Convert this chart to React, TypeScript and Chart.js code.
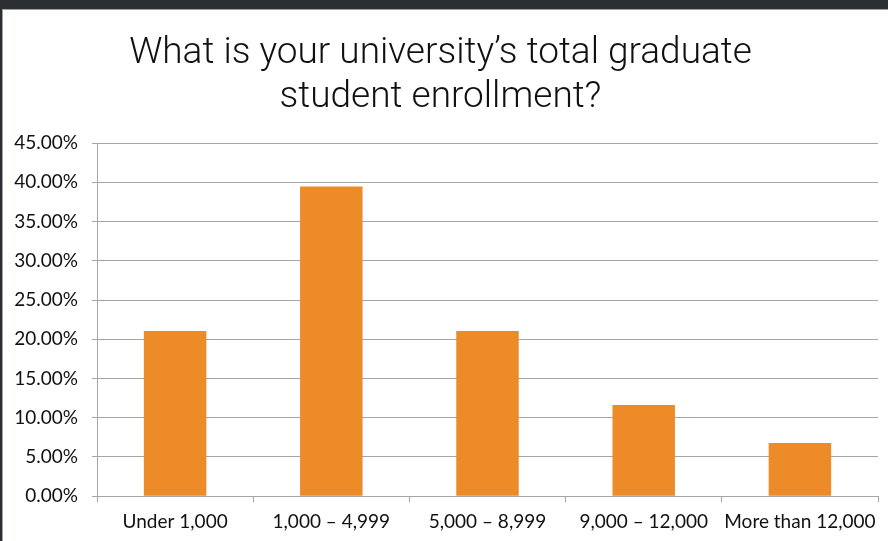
import React, { useEffect, useRef } from "react";
import { Chart, registerables } from "chart.js";

Chart.register(...registerables);

const titleLines = ["What is your university\u2019s total graduate", "student enrollment?"];
const categories = ["Under 1,000", "1,000 \u2013 4,999", "5,000 \u2013 8,999", "9,000 \u2013 12,000", "More than 12,000"];
const shares = [21.05, 39.47, 21.05, 11.63, 6.78];
const yMin = 0;
const yMax = 45;
const yStep = 5;

export default function App() {
  const ref = useRef<HTMLCanvasElement | null>(null);

  useEffect(() => {
    document.body.style.margin = "0";
    const canvas = ref.current;
    if (!canvas) return;
    const chart = new Chart(canvas, {
      type: "bar",
      data: {
        labels: categories,
        datasets: [
          {
            data: shares,
            backgroundColor: "#ED8B28",
            borderWidth: 0,
            categoryPercentage: 0.8,
            barPercentage: 0.5,
          },
        ],
      },
      options: {
        animation: false,
        responsive: false,
        maintainAspectRatio: false,
        layout: { padding: { top: 10, left: 3, right: 10, bottom: 0 } },
        plugins: {
          legend: { display: false },
          tooltip: { enabled: false },
          title: {
            display: true,
            text: titleLines,
            color: "#111",
            font: { family: "Roboto", size: 37, weight: "300", lineHeight: 1.19 },
            padding: { top: 22, bottom: 23 },
          },
        },
        scales: {
          x: {
            grid: {
              display: true,
              drawOnChartArea: false,
              drawTicks: true,
              tickLength: 6,
              color: "#a6a6a6",
              offset: true,
            },
            border: { display: true, color: "#a6a6a6", width: 1 },
            ticks: {
              color: "#111",
              font: { family: "Lato", size: 19 },
              padding: 8,
              maxRotation: 0,
              autoSkip: false,
            },
          },
          y: {
            min: yMin,
            max: yMax,
            grid: { color: "#a6a6a6", tickLength: 5, lineWidth: 1 },
            border: { display: true, color: "#a6a6a6", width: 1 },
            ticks: {
              stepSize: yStep,
              color: "#111",
              font: { family: "Lato", size: 19 },
              padding: 14,
              callback: (v: any) => Number(v).toFixed(2) + "%",
            },
            afterFit: (scale: any) => {
              scale.width = 94;
            },
          },
        },
      },
    });
    return () => chart.destroy();
  }, []);

  return (
    <div style={{ position: "fixed", left: 0, top: 0, width: 888, height: 541, background: "#2b2f33" }}>
      <div
        style={{
          position: "absolute",
          left: 2,
          top: 9,
          width: 886,
          height: 532,
          background: "#ffffff",
          borderTop: "1px solid #a0a0a0",
          borderLeft: "1px solid #a0a0a0",
          boxSizing: "border-box",
        }}
      />
      <canvas ref={ref} width={888} height={541} style={{ position: "absolute", left: 0, top: 0 }} />
    </div>
  );
}
